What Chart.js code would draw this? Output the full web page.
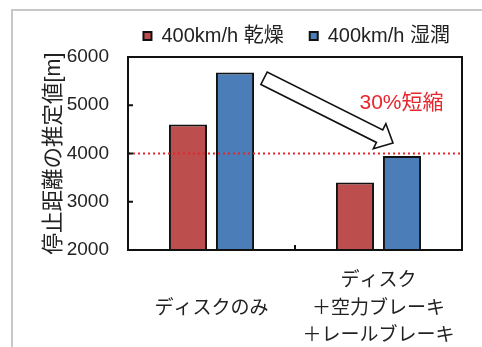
<!DOCTYPE html>
<html>
<head>
<meta charset="utf-8">
<script src="https://cdn.jsdelivr.net/npm/chart.js@4/dist/chart.umd.min.js"></script>
<style>
  body { margin: 0; background: #fff; }
  #wrap { position: relative; width: 482px; height: 347px; overflow: hidden; }
  #frame { position: absolute; left: 11px; top: 9px; width: 600px; height: 600px; border: 2px solid #c8c8c8; }
  #chart { position: absolute; left: 0; top: 0; }
</style>
</head>
<body>
<div id="wrap">
  <div id="frame"></div>
  <canvas id="chart" width="482" height="347"></canvas>
</div>
<script>
const categories = ["ディスクのみ", ["ディスク", "＋空力ブレーキ", "＋レールブレーキ"]];
const seriesNames = ["400km/h 乾燥", "400km/h 湿潤"];
const dryValues = [4600, 3400];
const wetValues = [5680, 3950];
const yTicks = [2000, 3000, 4000, 5000, 6000];
const targetLine = 4000;
const reductionLabel = "30%短縮";

const FONT = "'Liberation Sans', 'Noto Sans CJK JP', sans-serif";
const RED = "#bc4e4d";
const BLUE = "#4b7db8";

// plot frame, inward ticks, dotted target line, arrow and note
const extras = {
  id: "extras",
  afterDatasetsDraw(chart) {
    const { ctx, chartArea: a } = chart;
    const x = chart.scales.x, y = chart.scales.y;
    ctx.save();

    // dotted target line
    const ly = y.getPixelForValue(targetLine);
    ctx.strokeStyle = "#e3262a";
    ctx.lineWidth = 2;
    ctx.setLineDash([2, 3]);
    ctx.beginPath();
    ctx.moveTo(a.left, ly);
    ctx.lineTo(a.right, ly);
    ctx.stroke();
    ctx.setLineDash([]);

    // frame
    ctx.strokeStyle = "#111";
    ctx.lineWidth = 2;
    ctx.strokeRect(a.left, a.top, a.right - a.left, a.bottom - a.top);

    // inward ticks
    ctx.beginPath();
    yTicks.forEach(v => {
      const py = y.getPixelForValue(v);
      ctx.moveTo(a.left, py);
      ctx.lineTo(a.left + 5, py);
    });
    const mid = (x.getPixelForValue(0) + x.getPixelForValue(1)) / 2;
    ctx.moveTo(mid, a.bottom);
    ctx.lineTo(mid, a.bottom - 5);
    ctx.stroke();

    // arrow from wet bar 1 to wet bar 2
    const meta = chart.getDatasetMeta(1);
    const b0 = meta.data[0], b1 = meta.data[1];
    const sx = b0.x + b0.width / 2 + 10, sy = y.getPixelForValue(5560);
    const tx = b1.x - 9, ty = b1.y - 13;
    const len = Math.hypot(tx - sx, ty - sy);
    const ux = (tx - sx) / len, uy = (ty - sy) / len;
    const nx = -uy, ny = ux;
    const w = 7, hw = 14, hl = 15;
    const bx = tx - ux * hl, by = ty - uy * hl;
    ctx.beginPath();
    ctx.moveTo(sx + nx * w, sy + ny * w);
    ctx.lineTo(bx + nx * w, by + ny * w);
    ctx.lineTo(bx + nx * hw, by + ny * hw);
    ctx.lineTo(tx, ty);
    ctx.lineTo(bx - nx * hw, by - ny * hw);
    ctx.lineTo(bx - nx * w, by - ny * w);
    ctx.lineTo(sx - nx * w, sy - ny * w);
    ctx.closePath();
    ctx.fillStyle = "#fff";
    ctx.fill();
    ctx.lineWidth = 1.6;
    ctx.stroke();

    // note
    ctx.fillStyle = "#e8262d";
    ctx.font = "21px " + FONT;
    ctx.textAlign = "center";
    ctx.textBaseline = "middle";
    ctx.fillText(reductionLabel, x.getPixelForValue(1) + 23, y.getPixelForValue(5040));
    ctx.restore();
  }
};

new Chart(document.getElementById("chart"), {
  type: "bar",
  data: {
    labels: categories,
    datasets: [
      {
        label: seriesNames[0],
        data: dryValues,
        backgroundColor: RED,
        borderColor: "#111",
        borderWidth: 2,
        barPercentage: 0.81,
        categoryPercentage: 0.563,
      },
      {
        label: seriesNames[1],
        data: wetValues,
        backgroundColor: BLUE,
        borderColor: "#111",
        borderWidth: 2,
        barPercentage: 0.81,
        categoryPercentage: 0.563,
      },
    ],
  },
  options: {
    responsive: false,
    animation: false,
    devicePixelRatio: 1,
    layout: { padding: { top: 0, right: 6, bottom: 0, left: 0 } },
    plugins: {
      legend: {
        position: "top",
        align: "end",
        labels: {
          color: "#222",
          font: { family: FONT, size: 20 },
          boxWidth: 8,
          boxHeight: 8,
          padding: 26,
        },
      },
      // thin spacer between legend and plot
      subtitle: {
        display: true,
        text: "",
        weight: 500,
        padding: 0,
        font: { size: 1, lineHeight: 1 },
      },
      tooltip: { enabled: false },
    },
    scales: {
      x: {
        grid: { display: false, drawTicks: false },
        border: { display: false },
        ticks: {
          color: "#222",
          font: { family: FONT, size: 19, lineHeight: 1.45 },
          padding: 31,
          maxRotation: 0,
          crossAlign: "center",
        },
        afterFit(scale) {
          scale.height = 97;
          scale.paddingLeft = 0;
          scale.paddingRight = 0;
        },
      },
      y: {
        min: 2000,
        max: 6000,
        grid: { display: false, drawTicks: false },
        border: { display: false },
        ticks: {
          stepSize: 1000,
          color: "#222",
          font: { family: FONT, size: 19 },
          padding: 19,
          callback: v => String(v),
        },
        title: {
          display: true,
          text: "停止距離の推定値[m]",
          color: "#222",
          font: { family: FONT, size: 21.5, lineHeight: 1.2 },
          padding: { top: 41, bottom: 0 },
        },
        afterFit(scale) { scale.width = 128; },
      },
      spacer: {
        position: "right",
        display: true,
        grid: { display: false, drawTicks: false },
        border: { display: false },
        ticks: { display: false },
        afterFit(scale) { scale.width = 14; },
      },
    },
  },
  plugins: [extras],
});
</script>
</body>
</html>
